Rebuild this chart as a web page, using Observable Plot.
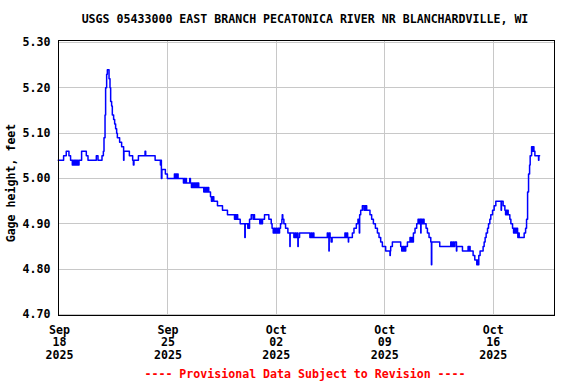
<!DOCTYPE html>
<html><head><meta charset="utf-8">
<script src="https://cdn.jsdelivr.net/npm/d3@7"></script>
<script src="https://cdn.jsdelivr.net/npm/@observablehq/plot@0.6"></script>
<style>
body{margin:0;background:#fff;}
#wrap{position:relative;width:576px;height:384px;font-family:"DejaVu Sans Mono",monospace;font-weight:bold;}
.t{position:absolute;white-space:pre;font-size:11.6px;line-height:1;transform:translate(-50%,-50%);}
#title{left:305px;top:20px;color:#000;}
#ylab{left:12px;top:183px;transform:translate(-50%,-50%) rotate(-90deg);color:#000;}
#cap{left:305px;top:375px;color:#ff0000;}
#chart{position:absolute;left:0;top:0;}
</style></head><body><div id="wrap">
<div id="chart"></div>
<div class="t" id="title">USGS 05433000 EAST BRANCH PECATONICA RIVER NR BLANCHARDVILLE, WI</div>
<div class="t" id="ylab">Gage height, feet</div>
<div class="t" id="cap">---- Provisional Data Subject to Revision ----</div>
</div>
<script>
// Hours since 2025-09-18 00:00 (UTC) and gage height (feet)
const hoursSinceStart = [
-1.9,6.4,10.5,14.7,17.2,
19.9,20.8,21.4,22.7,23.3,24.5,25.1,26.4,27.0,28.2,28.9,
30.3,34.3,41.6,44.2,57.1,59.7,65.9,68.0,69.0,70.6,71.5,73.1,74.2,76.8,78.3,79.3,80.8,81.9,83.9,85.5,87.0,88.6,89.7,93.2,96.3,99.4,99.9,
108.3,113.4,114.5,115.4,122.3,132.6,133.6,148.2,156.4,157.2,157.9,158.7,164.1,167.2,
178.1,179.3,180.4,181.7,182.8,183.8,
192.1,193.3,194.4,195.5,196.7,201.8,202.9,
204.5,206.0,207.6,209.1,210.7,212.2,213.8,214.7,215.8,
223.6,224.6,226.2,227.7,229.3,230.5,231.3,
234.0,235.5,237.1,239.1,244.8,252.6,260.3,
271.2,272.4,273.7,274.9,276.1,280.0,287.2,287.8,
291.8,292.9,293.8,294.5,297.1,299.9,301.1,302.2,
310.4,311.5,313.1,314.6,317.7,324.4,328.1,
329.4,331.2,332.5,334.0,335.6,337.1,338.7,340.2,341.0,342.5,
344.6,345.2,346.0,347.7,350.3,353.9,357.0,357.4,
363.2,364.7,366.3,367.8,369.4,369.9,372.0,
388.0,389.6,391.1,392.7,394.2,
415.0,416.2,417.5,417.9,419.3,420.9,422.4,
442.3,443.4,444.9,446.5,447.6,448.0,453.8,456.3,460.0,462.5,464.6,465.1,466.7,
469.3,471.8,472.9,474.4,475.2,476.0,
481.1,483.7,486.4,489.5,492.6,495.1,497.7,500.3,505.4,512.1,512.6,513.2,515.8,
528.7,530.3,531.8,533.4,534.9,535.7,536.5,539.1,
543.1,544.7,546.2,547.3,548.4,550.9,553.5,
555.6,557.4,558.5,559.8,560.2,562.1,563.3,564.9,568.0,570.1,572.6,575.3,576.3,576.8,
589.2,606.3,607.8,609.4,610.9,612.5,615.1,615.6,624.4,
633.1,634.2,635.3,636.2,640.9,643.5,646.6,647.7,648.6,649.7,651.7,
656.4,658.0,659.5,661.1,663.2,664.8,666.8,668.3,671.0,673.5,676.1,684.3,684.8,687.4,
690.1,691.2,692.1,693.2,694.3,695.2,697.8,699.4,702.0,
703.6,704.5,705.6,706.7,707.6,708.7,709.8,710.2,711.3,712.3,
720.0,722.2,723.7,725.3,726.8,728.4,729.3,731.5,733.5,734.3,735.1,736.6,742.3,742.8,743.9
];
const gageHeight = [
5.04,5.05,5.06,5.05,5.04,
5.03,5.04,5.03,5.04,5.03,5.04,5.03,5.04,5.03,5.04,5.03,
5.04,5.06,5.05,5.04,5.05,5.04,5.05,5.06,5.09,5.14,5.20,5.23,5.24,5.22,5.20,5.17,5.16,5.14,5.13,5.12,5.11,5.10,5.09,5.08,5.07,5.04,5.06,
5.05,5.04,5.03,5.04,5.05,5.06,5.05,5.04,5.03,5.04,5.00,5.02,5.01,5.00,
5.01,5.00,5.01,5.00,5.01,5.00,
4.99,5.00,4.99,5.00,4.99,5.00,4.99,
4.98,4.99,4.98,4.99,4.98,4.99,4.98,4.99,4.98,
4.97,4.98,4.97,4.98,4.97,4.98,4.97,
4.96,4.95,4.96,4.95,4.94,4.93,4.92,
4.91,4.92,4.91,4.92,4.91,4.90,4.87,4.90,
4.89,4.90,4.89,4.91,4.92,4.91,4.92,4.91,
4.90,4.91,4.90,4.91,4.92,4.91,4.90,
4.89,4.88,4.89,4.88,4.89,4.88,4.89,4.88,4.89,4.90,
4.91,4.92,4.91,4.90,4.89,4.88,4.85,4.88,
4.87,4.88,4.87,4.88,4.85,4.87,4.88,
4.87,4.88,4.87,4.88,4.87,
4.88,4.87,4.84,4.88,4.87,4.86,4.87,
4.88,4.87,4.88,4.87,4.86,4.87,4.88,4.89,4.90,4.91,4.88,4.92,4.93,
4.94,4.93,4.94,4.93,4.94,4.93,
4.92,4.91,4.90,4.89,4.88,4.87,4.86,4.85,4.84,4.83,4.84,4.85,4.86,
4.85,4.84,4.85,4.84,4.85,4.84,4.85,4.86,
4.87,4.86,4.87,4.86,4.88,4.89,4.90,
4.91,4.90,4.91,4.88,4.91,4.90,4.91,4.90,4.89,4.88,4.87,4.86,4.81,4.86,
4.85,4.86,4.85,4.86,4.85,4.86,4.84,4.85,4.84,
4.85,4.84,4.85,4.84,4.83,4.82,4.81,4.82,4.81,4.83,4.84,
4.85,4.86,4.87,4.88,4.89,4.90,4.91,4.92,4.93,4.94,4.95,4.93,4.95,4.94,
4.93,4.92,4.93,4.92,4.93,4.92,4.91,4.90,4.89,
4.88,4.89,4.88,4.89,4.88,4.89,4.88,4.87,4.88,4.87,
4.88,4.89,4.91,4.97,5.01,5.03,5.05,5.07,5.06,5.07,5.06,5.05,5.04,5.05,5.05
];
const yTickValues = [4.70, 4.80, 4.90, 5.00, 5.10, 5.20, 5.30];
const xTickDates = ["2025-09-18", "2025-09-25", "2025-10-02", "2025-10-09", "2025-10-16"];
const xGridDates = ["2025-09-25", "2025-10-02", "2025-10-09", "2025-10-16"];

const t0 = Date.UTC(2025, 8, 18);
const series = hoursSinceStart.map((h, i) => ({t: new Date(t0 + h * 3600e3), v: gageHeight[i]}));
const toDate = s => new Date(s + "T00:00:00Z");
const fmt = d3.utcFormat("%b\n%d\n%Y");

const chart = Plot.plot({
  width: 576, height: 384,
  marginLeft: 58, marginRight: 22, marginTop: 40, marginBottom: 69,
  style: {fontFamily: "'DejaVu Sans Mono', monospace", fontWeight: "bold", fontSize: "11.6px", color: "#000", background: "transparent", overflow: "visible"},
  x: {type: "utc", domain: [new Date(Date.UTC(2025, 8, 17, 22, 30)), new Date(Date.UTC(2025, 9, 19, 23, 0))]},
  y: {domain: [4.6978, 5.3044]},
  marks: [
    Plot.gridY(yTickValues, {stroke: "#c8c8c8", strokeOpacity: 1, strokeWidth: 1, shapeRendering: "crispEdges"}),
    Plot.gridX(xGridDates.map(toDate), {stroke: "#c8c8c8", strokeOpacity: 1, strokeWidth: 1, shapeRendering: "crispEdges"}),
    Plot.lineY(series, {x: "t", y: "v", curve: "step-after", stroke: "#0000ff", strokeWidth: 1.5}),
    Plot.frame({stroke: "#000", strokeWidth: 1, shapeRendering: "crispEdges"}),
    Plot.axisY(yTickValues, {tickSize: 0, tickPadding: 8, tickFormat: d => d.toFixed(2), label: null, fill: "#000"}),
    Plot.axisX(xTickDates.map(toDate), {tickSize: 0, tickPadding: 9, tickFormat: fmt, label: null, lineHeight: 1.1, fill: "#000"})
  ]
});
document.getElementById("chart").appendChild(chart);
</script>
</body></html>
